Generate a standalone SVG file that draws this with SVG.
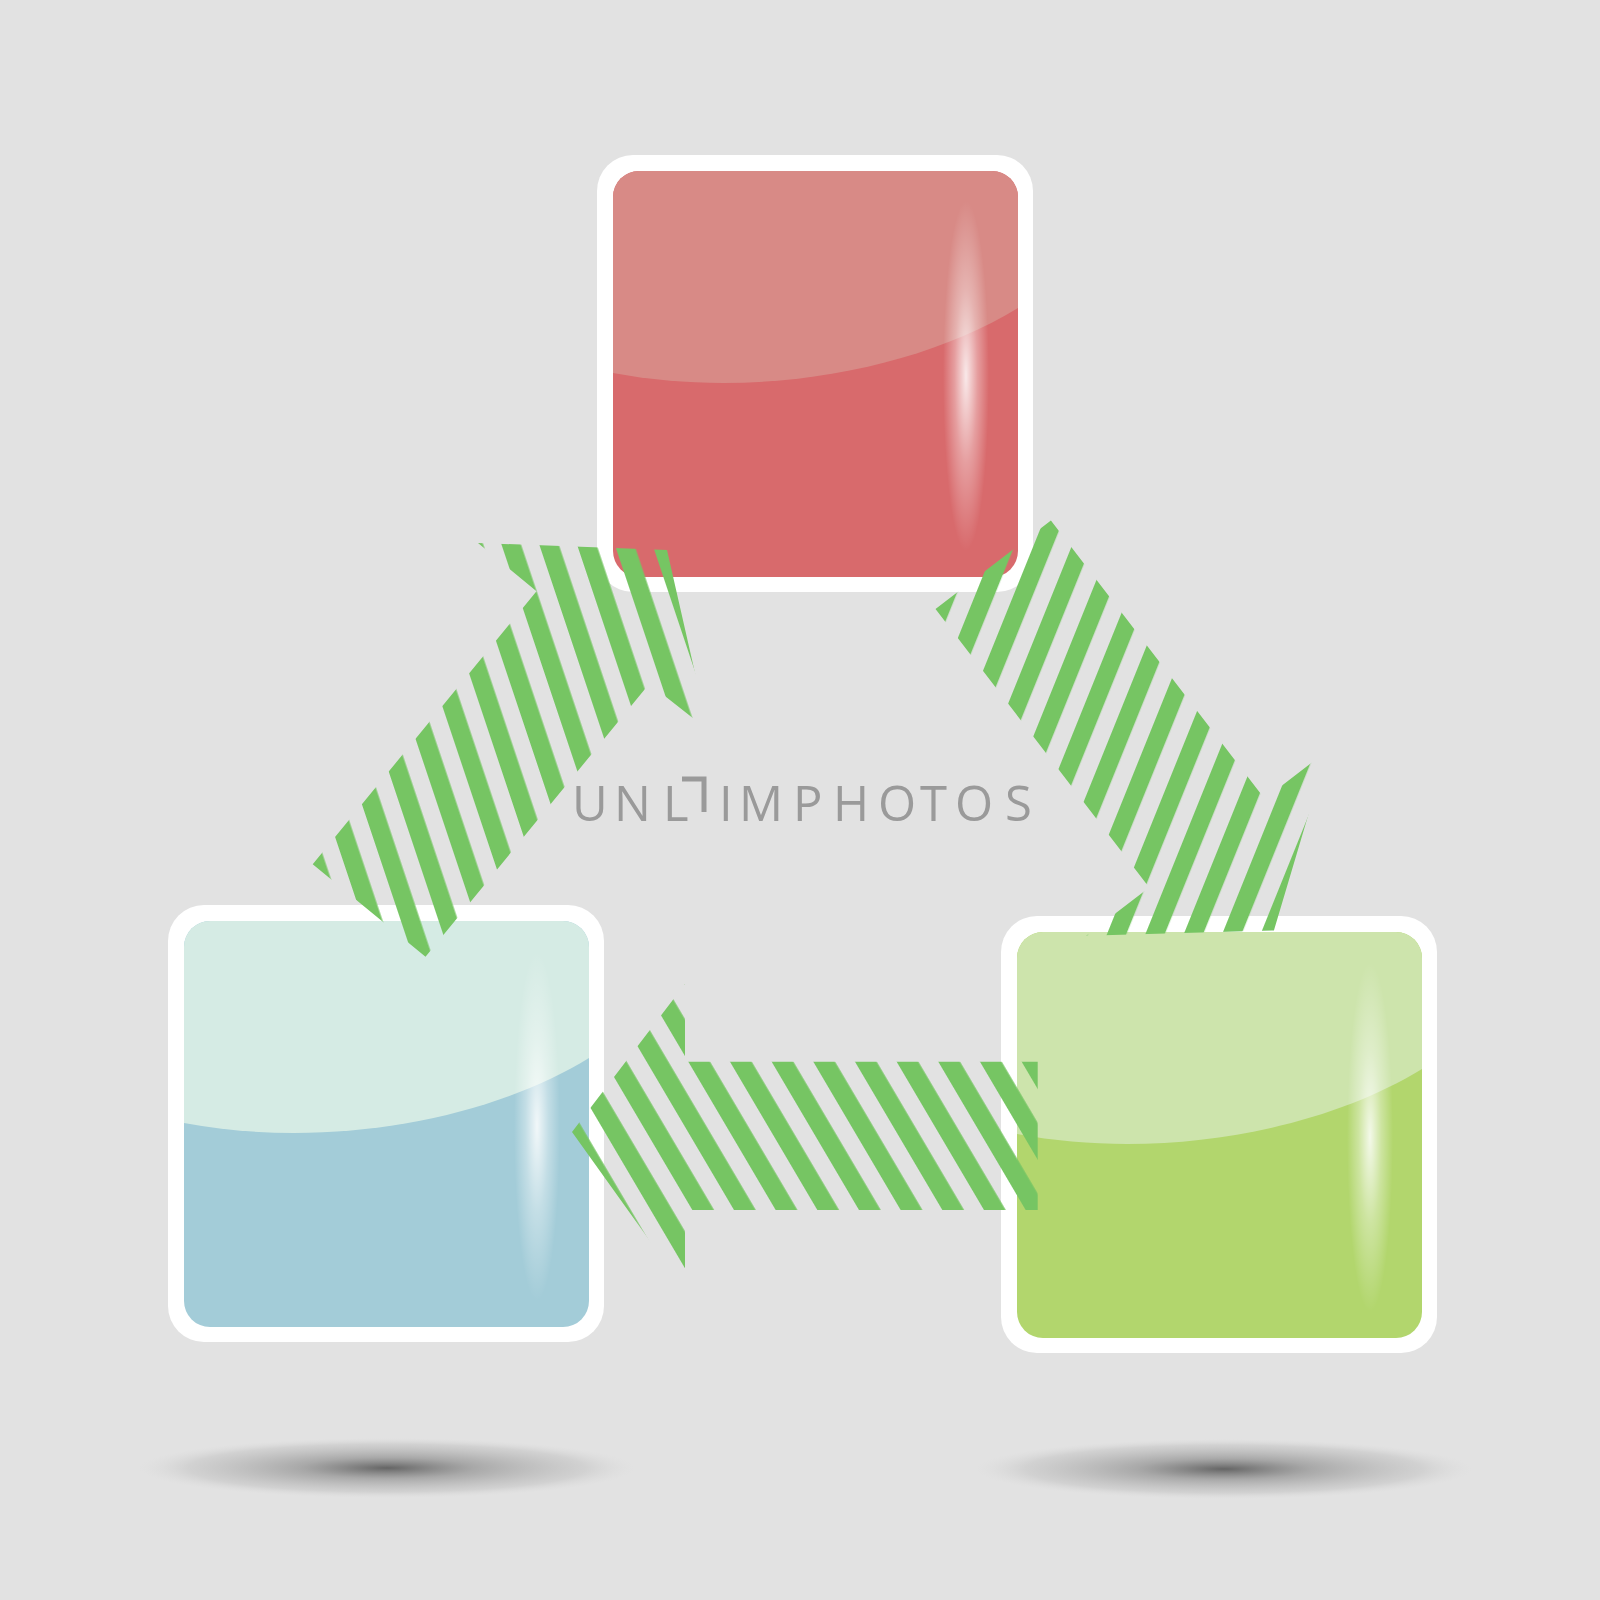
<svg xmlns="http://www.w3.org/2000/svg" width="1600" height="1600" viewBox="0 0 1600 1600">
<style>
.frame{fill:#ffffff}
.wm{font-family:"Open Sans","DejaVu Sans","Liberation Sans",sans-serif;font-size:49px;fill:#9a9a9a}
</style>
<defs>
<radialGradient id="shine" cx="0.5" cy="0.5" r="0.5">
<stop offset="0" stop-color="#fff" stop-opacity="0.85"/>
<stop offset="0.5" stop-color="#fff" stop-opacity="0.35"/>
<stop offset="1" stop-color="#fff" stop-opacity="0"/>
</radialGradient>
<radialGradient id="shadow" cx="0.5" cy="0.5" r="0.5">
<stop offset="0" stop-color="#5e5e5e" stop-opacity="0.95"/>
<stop offset="0.35" stop-color="#8a8a8a" stop-opacity="0.65"/>
<stop offset="0.8" stop-color="#bdbdbd" stop-opacity="0.45"/>
<stop offset="1" stop-color="#d6d6d6" stop-opacity="0"/>
</radialGradient>
<pattern id="stL" patternUnits="userSpaceOnUse" width="35.8" height="100" patternTransform="translate(335,836.7) rotate(-18.5)"><rect width="18.5" height="100" fill="#76c563"/></pattern>
<pattern id="stR" patternUnits="userSpaceOnUse" width="35.6" height="100" patternTransform="translate(1145,935) rotate(22)"><rect width="18" height="100" fill="#76c563"/></pattern>
<pattern id="stH" patternUnits="userSpaceOnUse" width="35.9" height="100" patternTransform="translate(688.3,1061.7) rotate(-30.5)"><rect width="18.7" height="100" fill="#76c563"/></pattern>
<g id="gloss">
<ellipse cx="353" cy="205" rx="23" ry="175" fill="url(#shine)"/>
</g>
<path id="upper" d="M16,218 L16,42 A26,26 0 0 1 42,16 L395,16 A26,26 0 0 1 421,42 L421,153 C320,215 160,245 16,218 Z"/>
</defs>
<rect width="1600" height="1600" fill="#e2e2e2"/>
<ellipse cx="387" cy="1468" rx="248" ry="30" fill="url(#shadow)"/>
<ellipse cx="1224" cy="1469" rx="248" ry="30" fill="url(#shadow)"/>
<g id="node-red" transform="translate(597,155)">
<rect class="frame" width="436" height="437" rx="36"/>
<rect x="16" y="16" width="405" height="406" rx="26" fill="#d86a6c"/>
<use href="#upper" fill="#d88a86"/>
<use href="#gloss" x="16" y="16"/>
</g>
<g id="node-blue" transform="translate(168,905)">
<rect class="frame" width="436" height="437" rx="36"/>
<rect x="16" y="16" width="405" height="406" rx="26" fill="#a3ccd8"/>
<use href="#upper" fill="#d5ebe4"/>
<use href="#gloss" x="16" y="16"/>
</g>
<g id="node-green" transform="translate(1001,916)">
<rect class="frame" width="436" height="437" rx="36"/>
<rect x="16" y="16" width="405" height="406" rx="26" fill="#b2d66d"/>
<use href="#upper" fill="#cde4ac"/>
<use href="#gloss" x="16" y="16"/>
</g>
<g id="connectors">
<polygon id="arrow-blue-red" fill="url(#stL)" points="312.7,864.2 536.5,591.3 478,543 667,550 708,730 649.3,683.8 425.5,956.7"/>
<polygon id="arrow-red-green" fill="url(#stR)" points="935.5,609.1 1050.9,520.4 1264.6,798.8 1327.5,750.5 1273.9,930.4 1086.2,935.8 1149.2,887.5"/>
<polygon id="arrow-green-blue" fill="url(#stH)" points="1037.7,1061.7 685,1061.7 685,984 572,1132 685,1290 685,1210 1037.7,1210"/>
</g>
<g id="watermark">
<text class="wm" x="572 614 663 719 739 793 833 878 920 955 1005" y="821">UNLIMPHOTOS</text>
<path d="M682,779 L704,779 L704,812" fill="none" stroke="#9a9a9a" stroke-width="5"/>
</g>
</svg>
